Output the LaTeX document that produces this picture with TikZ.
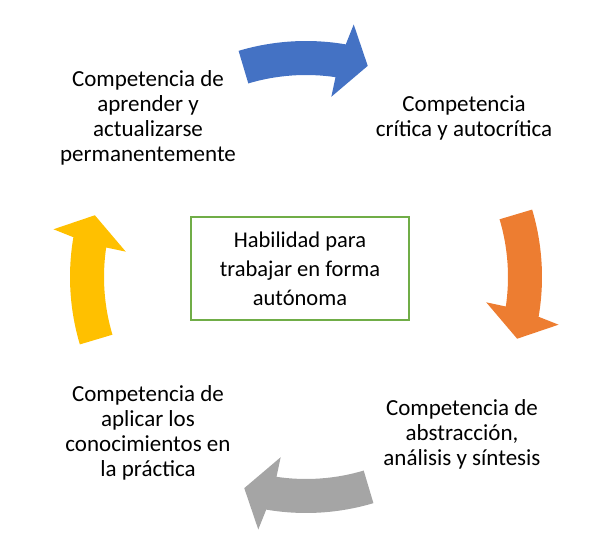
\documentclass[tikz,border=0pt]{standalone}
\usepackage{fontspec}
\setmainfont{Carlito}
\usepackage{tikz}
\usetikzlibrary{positioning}
\definecolor{cycblue}{HTML}{4472C4}
\definecolor{cycorange}{HTML}{ED7D31}
\definecolor{cycgray}{HTML}{A5A5A5}
\definecolor{cycyellow}{HTML}{FFC000}
\definecolor{hubgreen}{HTML}{70AD47}
\tikzset{
  x=1pt, y=1pt,
  every node/.style={text=black},
  stagetext/.style={align=center, inner sep=0pt, font=\fontsize{23}{25}\selectfont},
  hubbox/.style={draw=hubgreen, line width=2pt, align=center, inner sep=0pt,
    minimum width=218pt, minimum height=103pt, font=\fontsize{22.5}{29}\selectfont},
}
% curved block arrow, clockwise, centred on angle #1, filled with colour #2
\newcommand{\cyclearrow}[2]{%
  \fill[#2] (#1+16.6:236pt) arc[start angle=#1+16.6, end angle=#1-9.7, radius=236pt]
    -- (#1-10.7:257pt) -- (#1-16.3:220pt) -- (#1-8:182pt) -- (#1-8.4:202pt)
    arc[start angle=#1-8.4, end angle=#1+16.6, radius=202pt] -- cycle;}

\begin{document}
\begin{tikzpicture}
  \useasboundingbox (0,0) rectangle (600,559);

  % centre of the cycle
  \coordinate (hub) at (306,282);

  % the four arrows round the cycle
  \begin{scope}[shift={(hub)}]
    \cyclearrow{90}{cycblue}
    \cyclearrow{0}{cycorange}
    \cyclearrow{-90}{cycgray}
    \cyclearrow{180}{cycyellow}
  \end{scope}

  % central box
  \node[hubbox] (centre) at (300,290.5) {Habilidad para\\ trabajar en forma\\ autónoma};

  % stage texts
  \node[stagetext] (learn) at (148,441) {Competencia de\\ aprender y\\ actualizarse\\ permanentemente};
  \node[stagetext] (critic) at (464,441) {Competencia\\ crítica y autocrítica};
  \node[stagetext] (abstr) at (462,125) {Competencia de\\ abstracción,\\ análisis y síntesis};
  \node[stagetext] (apply) at (148,126) {Competencia de\\ aplicar los\\ conocimientos en\\ la práctica};
\end{tikzpicture}
\end{document}
